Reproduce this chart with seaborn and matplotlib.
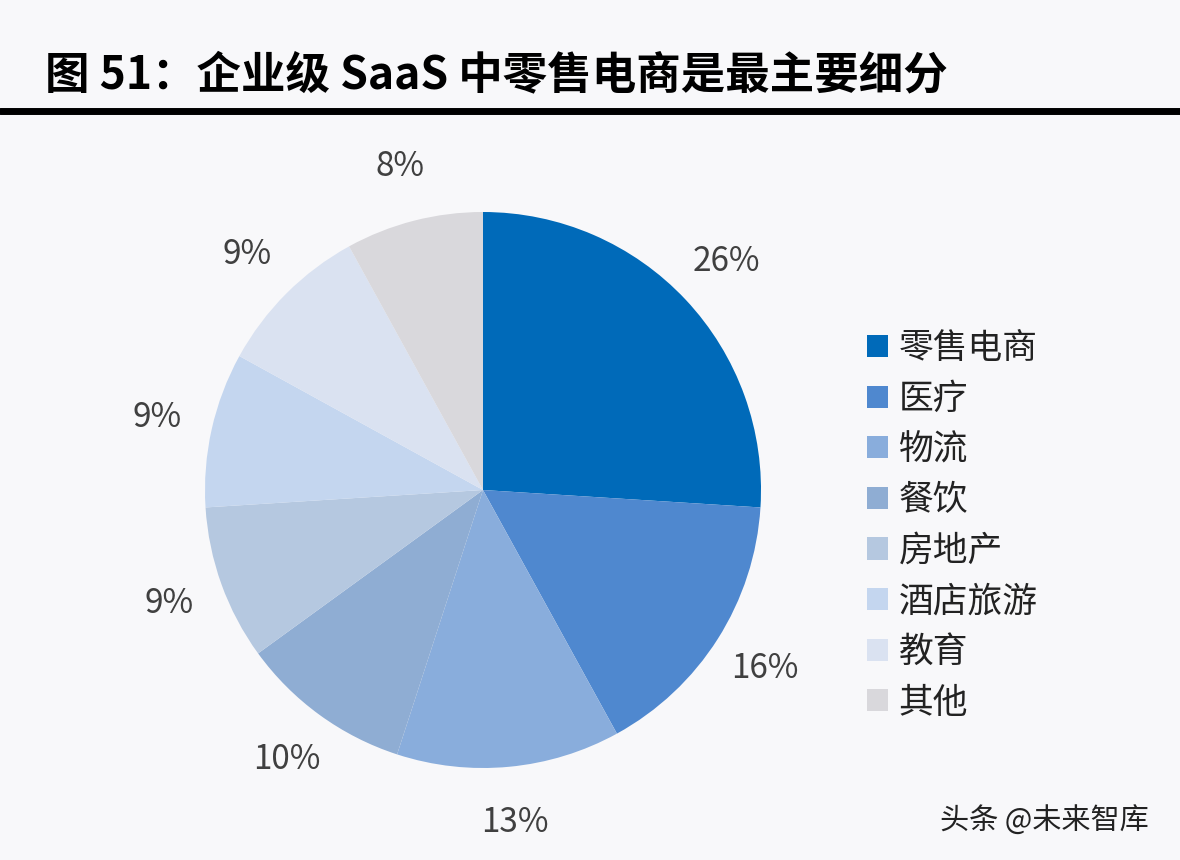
import matplotlib.pyplot as plt
import seaborn as sns
from matplotlib.patches import Patch

# Dados do gráfico
categorias = ['零售电商', '医疗', '物流', '餐饮', '房地产', '酒店旅游', '教育', '其他']
valores = [26, 16, 13, 10, 9, 9, 9, 8]
cores = ['#006ab9', '#4f88cf', '#89addc', '#8fadd3', '#b5c8e0', '#c4d6ef', '#dae2f1', '#d9d8dc']
titulo = '图 51：企业级 SaaS 中零售电商是最主要细分'
marca = '头条 @未来智库'

sns.set_theme(style='white')
plt.rcParams['font.family'] = ['Noto Sans CJK SC', 'DejaVu Sans']

fig = plt.figure(figsize=(11.8, 8.6), dpi=100)
fig.patch.set_facecolor('#f8f8fa')

# Pizza centrada em (483, 490) px com raio ~278 px
ax = fig.add_axes([(483 - 278) / 1180, (860 - 490 - 278) / 860, 556 / 1180, 556 / 860])
ax.set_facecolor('#f8f8fa')
paleta = sns.color_palette(cores)
wedges, texts, autotexts = ax.pie(
    valores, colors=paleta, startangle=90, counterclock=False,
    autopct='%d%%', pctdistance=1.2, radius=1,
    wedgeprops=dict(linewidth=0),
    textprops=dict(fontsize=24, color='#404040', fontweight='light'))
ax.set_xlim(-1, 1)
ax.set_ylim(-1, 1)
ax.set_aspect('equal')
ax.axis('off')

# Título e linha preta
fig.text(45 / 1180, 1 - 75 / 860, titulo, fontsize=32, fontweight='black',
         color='black', va='center', ha='left')
fig.add_artist(plt.Line2D([0, 1], [1 - 111 / 860, 1 - 111 / 860], color='black',
                          linewidth=5, transform=fig.transFigure))

# Legenda
handles = [Patch(facecolor=c, edgecolor='none') for c in cores]
fig.legend(handles, categorias, loc='upper left',
           bbox_to_anchor=(836 / 1180, 1 - 300 / 860), frameon=False,
           fontsize=25, handlelength=0.6, handleheight=0.6, handletextpad=0.3,
           labelspacing=0.45, labelcolor='#222222')

# Marca d'água
fig.text(940 / 1180, 1 - 822 / 860, marca, fontsize=21, color='#222222',
         va='center', ha='left')

fig.savefig('out.png', dpi=100, facecolor=fig.get_facecolor())
